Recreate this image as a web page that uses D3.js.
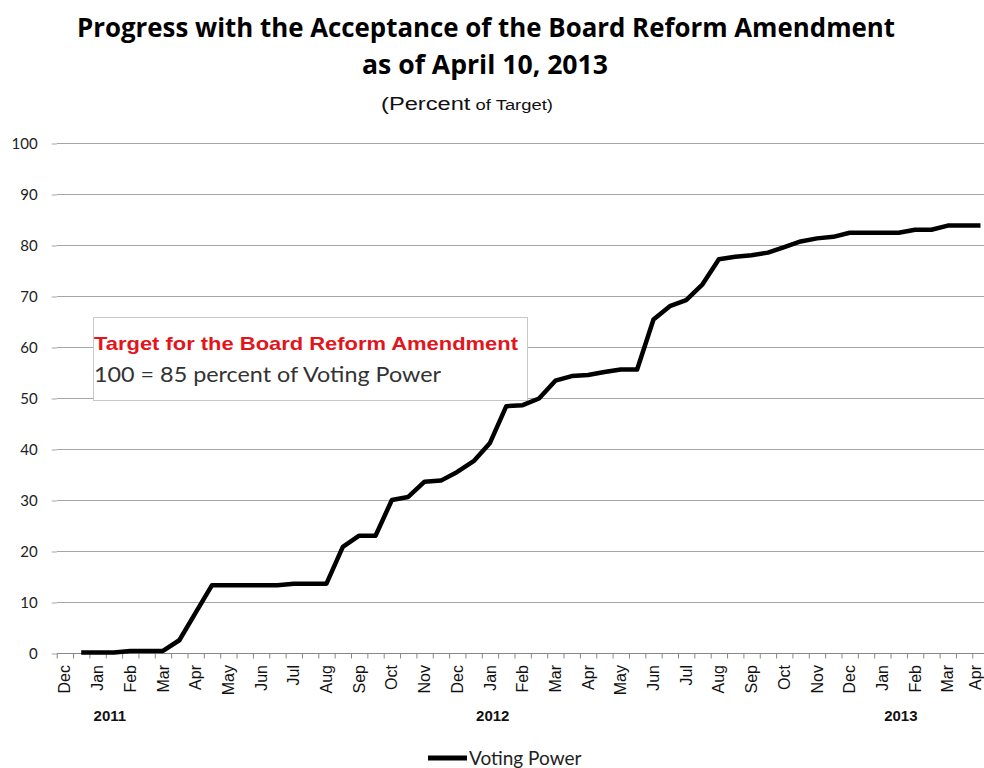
<!DOCTYPE html>
<html>
<head>
<meta charset="utf-8">
<script src="https://cdn.jsdelivr.net/npm/d3@7"></script>
<style>
  body { margin: 0; background: #fff; }
  svg { display: block; }
</style>
</head>
<body>
<div id="chart"></div>
<script>
// month labels, one per two half-month slots (Dec 2010 .. Apr 2013)
var months = ["Dec","Jan","Feb","Mar","Apr","May","Jun","Jul","Aug","Sep","Oct","Nov",
              "Dec","Jan","Feb","Mar","Apr","May","Jun","Jul","Aug","Sep","Oct","Nov",
              "Dec","Jan","Feb","Mar","Apr"];
var years = ["2011", "2012", "2013"];
var yearSlot = [3.25, 26.67, 51.63];
var yTicks = [0, 10, 20, 30, 40, 50, 60, 70, 80, 90, 100];
// voting power, percent of target, per half-month slot (first slot empty)
var votingPower = [null, 0.1, 0.1, 0.1, 0.4, 0.4, 0.4, 2.5, 7.9, 13.3,
                   13.3, 13.3, 13.3, 13.3, 13.6, 13.6, 13.6, 20.8, 23.0, 23.0,
                   30.0, 30.6, 33.6, 33.8, 35.5, 37.6, 41.2, 48.4, 48.6, 49.9,
                   53.4, 54.3, 54.5, 55.1, 55.6, 55.6, 65.4, 68.0, 69.2, 72.3,
                   77.2, 77.7, 78.0, 78.5, 79.6, 80.7, 81.3, 81.6, 82.4, 82.4,
                   82.4, 82.4, 83.0, 83.0, 83.8, 83.8, 83.8];

var width = 984, height = 768;
var svg = d3.select("#chart").append("svg")
    .attr("width", width)
    .attr("height", height);

var slots = d3.range(votingPower.length);
var x = d3.scaleBand().domain(slots).range([56.7, 56.7 + slots.length * 16.35]);
var xPos = d3.scaleLinear().domain([0, slots.length]).range(x.range());
var y = d3.scaleLinear().domain([0, 100]).range([653, 143]);

var calibri = "Lato, 'Open Sans', 'Noto Sans', sans-serif";
var arial = "'Liberation Sans', Arial, sans-serif";

// titles
svg.append("text")
    .attr("x", 77).attr("y", 37)
    .attr("textLength", 818).attr("lengthAdjust", "spacingAndGlyphs")
    .style("font-family", "'Open Sans', " + calibri)
    .style("font-weight", "bold").style("font-size", "27px")
    .text("Progress with the Acceptance of the Board Reform Amendment");
svg.append("text")
    .attr("x", 362).attr("y", 74)
    .attr("textLength", 246).attr("lengthAdjust", "spacingAndGlyphs")
    .style("font-family", "'Open Sans', " + calibri)
    .style("font-weight", "bold").style("font-size", "27px")
    .text("as of April 10, 2013");
var sub = svg.append("text")
    .attr("x", 381).attr("y", 110)
    .attr("textLength", 172).attr("lengthAdjust", "spacingAndGlyphs")
    .style("font-family", arial).style("fill", "#111");
sub.append("tspan").style("font-size", "18px").text("(Percent");
sub.append("tspan").style("font-size", "14px").text(" of Target)");

// gridlines
svg.append("g")
    .selectAll("line")
    .data(yTicks.slice(1))
    .enter()
    .append("line")
    .attr("x1", 56.7).attr("x2", width)
    .attr("y1", function(d) { return y(d) + 0.5; })
    .attr("y2", function(d) { return y(d) + 0.5; })
    .attr("stroke", "#a6a6a6").attr("stroke-width", 1);

// y axis labels
var yAxis = d3.axisLeft(y).tickValues(yTicks).tickSize(5).tickPadding(14);
var gy = svg.append("g").attr("transform", "translate(56.7,0.5)").call(yAxis);
gy.select(".domain").remove();
gy.selectAll(".tick line").attr("stroke", "#a6a6a6");
gy.selectAll("text")
    .style("font-family", calibri).style("font-size", "15px").style("fill", "#222");

// x axis: tick marks at slot boundaries
var xTickAxis = d3.axisBottom(xPos).tickValues(d3.range(slots.length + 1))
    .tickSize(5).tickFormat("");
var gx = svg.append("g").attr("transform", "translate(0," + (y(0) + 0.5) + ")").call(xTickAxis);
gx.selectAll(".domain").attr("stroke", "#888").attr("d", "M" + x.range()[0] + ",0H" + x.range()[1]);
gx.selectAll(".tick line").attr("stroke", "#888");

// x axis: month labels on every second slot
var xLabelAxis = d3.axisBottom(x)
    .tickValues(slots.filter(function(d) { return d % 2 === 0; }))
    .tickSize(0)
    .tickFormat(function(d) { return months[d / 2]; });
var gl = svg.append("g").attr("transform", "translate(0," + (y(0) + 12) + ")").call(xLabelAxis);
gl.select(".domain").remove();
gl.selectAll(".tick text")
    .attr("transform", "rotate(-90)")
    .attr("x", 0).attr("y", 0).attr("dy", "0.35em")
    .style("text-anchor", "end")
    .style("font-family", arial).style("font-size", "16px").style("fill", "#111");
// keep the last label inside the picture
gl.selectAll(".tick").filter(function(d) { return x(d) + x.bandwidth() / 2 > width - 9; })
    .attr("transform", "translate(" + (width - 9) + ",0)");

// year labels
svg.append("g")
    .selectAll("text")
    .data(years)
    .enter()
    .append("text")
    .attr("x", function(d, i) { return xPos(yearSlot[i]); })
    .attr("y", 721)
    .attr("text-anchor", "middle")
    .style("font-family", arial).style("font-weight", "bold")
    .style("font-size", "15px").style("fill", "#111")
    .text(function(d) { return d; });

// target note box
svg.append("rect")
    .attr("x", 93.5).attr("y", 317.5).attr("width", 434).attr("height", 83)
    .attr("fill", "#fff").attr("stroke", "#c8c8c8");
svg.append("text")
    .attr("x", 94).attr("y", 350)
    .attr("textLength", 424).attr("lengthAdjust", "spacingAndGlyphs")
    .style("font-family", arial).style("font-weight", "bold")
    .style("font-size", "19px").style("fill", "#e3141c")
    .text("Target for the Board Reform Amendment");
svg.append("text")
    .attr("x", 94).attr("y", 382)
    .attr("textLength", 347).attr("lengthAdjust", "spacingAndGlyphs")
    .style("font-family", calibri).style("font-size", "21px").style("fill", "#333")
    .text("100 = 85 percent of Voting Power");

// voting power line
var line = d3.line()
    .defined(function(d) { return d !== null; })
    .x(function(d, i) { return x(i) + x.bandwidth() / 2; })
    .y(function(d) { return y(d); });

svg.append("path")
    .datum(votingPower)
    .attr("d", line)
    .attr("fill", "none")
    .attr("stroke", "#000")
    .attr("stroke-width", 4.5)
    .attr("stroke-linejoin", "round");

// legend
svg.append("line")
    .attr("x1", 428).attr("x2", 467).attr("y1", 758).attr("y2", 758)
    .attr("stroke", "#000").attr("stroke-width", 5);
svg.append("text")
    .attr("x", 469).attr("y", 765)
    .style("font-family", calibri).style("font-size", "19px").style("fill", "#222")
    .text("Voting Power");
</script>
</body>
</html>
